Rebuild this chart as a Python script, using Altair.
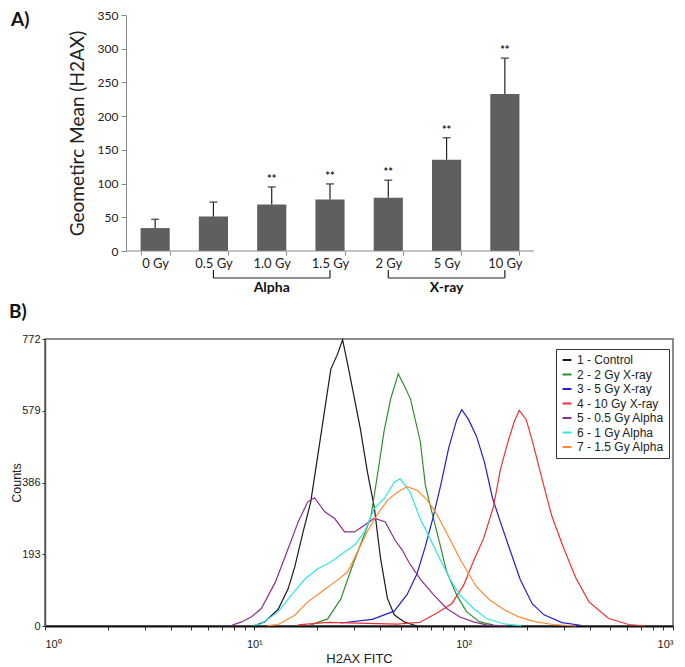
import altair as alt
import pandas as pd

# ---------------- Panel A data ----------------
doses = ["0 Gy", "0.5 Gy", "1.0 Gy", "1.5 Gy", "2 Gy", "5 Gy", "10 Gy"]
geo_mean = [34, 51, 69, 76.5, 79, 135.5, 233]
geo_err = [13, 21.5, 26, 23, 26, 32.5, 53]
signif = ["", "", "**", "**", "**", "**", "**"]

group_names = ["Alpha", "X-ray"]
group_start = ["0.5 Gy", "2 Gy"]
group_end = ["1.5 Gy", "10 Gy"]
group_mid = ["1.0 Gy", "5 Gy"]

# ---------------- Panel B data ----------------
series_names = ["1 - Control", "2 - 2 Gy X-ray", "3 - 5 Gy X-ray", "4 - 10 Gy X-ray",
                "5 - 0.5 Gy Alpha", "6 - 1 Gy Alpha", "7 - 1.5 Gy Alpha"]
series_colors = ["#1a1a1a", "#2f8f2f", "#2020d0", "#f03030", "#8e2e8e", "#30e6e6", "#ff8a33"]

control_x = [9.9, 11.2, 13.0, 14.5, 15.6, 17.1, 18.6, 20.8, 23.2, 25.0, 26.4, 27.9, 30.1, 32.1,
             34.7, 37.4, 40.0, 43.2, 46.6, 52.0, 59.8]
control_y = [0, 11, 45, 100, 159, 253, 334, 514, 691, 732, 770, 705, 611, 530, 414, 320, 185,
             75, 30, 11, 0]

xray2_x = [18.6, 22.4, 25.9, 29.5, 33.5, 36.1, 39.4, 41.6, 44.8, 48.7, 51.8, 55.7, 62.1, 65.6,
           71.8, 77.2, 83.0, 92.7, 103.3, 119.4, 138.3]
xray2_y = [3, 19, 73, 164, 245, 296, 433, 522, 611, 678, 648, 611, 495, 379, 288, 218, 145, 83,
           38, 11, 3]

xray5_x = [25.8, 36.6, 46.6, 53.7, 59.8, 65.3, 71.3, 77.8, 84.9, 92.7, 97.9, 105.6, 115.2, 125.8,
           137.2, 149.7, 165.2, 186.3, 212.4, 242.0, 294.6, 362.5]
xray5_y = [8, 18, 40, 85, 140, 210, 290, 380, 480, 555, 582, 555, 510, 440, 345, 280, 210, 125,
           60, 30, 9, 2]

xray10_x = [16.2, 22.4, 31.1, 48.2, 61.9, 74.5, 87.7, 100.0, 111.5, 124.4, 138.7, 149.7, 161.7,
            174.5, 184.2, 199.0, 214.7, 239.4, 264.0, 297.7, 343.0, 397.0, 493.0, 614.0, 736.0]
xray10_y = [3, 10, 8, 5, 10, 35, 60, 110, 175, 235, 320, 420, 490, 550, 580, 555, 490, 385, 295,
            215, 130, 65, 20, 4, 0]

alpha05_x = [7.8, 8.7, 9.7, 10.8, 12.6, 14.5, 16.2, 18.0, 19.4, 21.7, 24.2, 27.0, 30.1, 33.6,
             37.4, 42.2, 47.1, 50.8, 54.9, 61.9, 72.1, 83.0, 96.0, 111.5, 128.5, 159.9]
alpha05_y = [2, 11, 25, 47, 118, 208, 280, 334, 345, 307, 289, 253, 253, 271, 290, 280, 230,
             205, 170, 127, 83, 47, 24, 11, 3, 0]

alpha1_x = [9.9, 10.8, 13.0, 15.0, 17.5, 20.1, 23.2, 27.0, 30.1, 33.6, 37.4, 41.8, 46.6, 49.7,
            55.5, 61.9, 69.1, 76.9, 85.9, 96.0, 111.5, 128.5, 154.8, 188.4]
alpha1_y = [2, 6, 38, 83, 127, 154, 172, 199, 217, 253, 316, 343, 387, 396, 360, 289, 235, 181,
            127, 83, 47, 20, 6, 1]

alpha15_x = [11.6, 13.0, 15.6, 18.0, 20.8, 24.2, 27.9, 31.1, 34.7, 38.7, 43.2, 48.2, 53.7, 59.8,
             66.8, 74.5, 83.0, 96.0, 103.3, 115.2, 133.3, 154.8, 184.2, 221.8, 267.0, 343.0]
alpha15_y = [1, 4, 29, 65, 91, 118, 145, 200, 255, 300, 338, 360, 375, 365, 340, 300, 250, 180,
             150, 105, 70, 45, 24, 11, 4, 0]

series_x = [control_x, xray2_x, xray5_x, xray10_x, alpha05_x, alpha1_x, alpha15_x]
series_y = [control_y, xray2_y, xray5_y, xray10_y, alpha05_y, alpha1_y, alpha15_y]

y_ticks_A = [0, 50, 100, 150, 200, 250, 300, 350]
y_ticks_B = [0, 193, 386, 579, 772]
x_ticks_B = [m * d for d in [1, 10, 100] for m in range(1, 10)] + [1000]

# ---------------- Panel A ----------------
# Panel A's plot area is shifted right of panel B's by SHIFT px: the band scale
# keeps that room on its left and the y axis is moved in by the same amount.
SHIFT = 81
WA, HA = 408 + SHIFT, 236
FONT_A = "Lato"
dfA = pd.DataFrame({
    "dose": doses,
    "mean": geo_mean,
    "upper": [m + e for m, e in zip(geo_mean, geo_err)],
    "sig": signif,
})
n = len(doses)
step = (WA - SHIFT) / n
pad_outer = (SHIFT + 0.5 * step) / (2 * step)
band_align = (SHIFT + 0.25 * step) / (2 * pad_outer * step)
cat_scale = alt.Scale(domain=doses, paddingInner=0.5, paddingOuter=pad_outer, align=band_align)
y_scale_A = alt.Scale(domain=[0, 350], nice=False)
YT = "Geometirc Mean (H2AX)"

x_axis_A = alt.Axis(title=None, labelAngle=0, tickBand="extent", domain=False,
                    tickColor="#8a8a8a", tickSize=4, labelPadding=2, labelFont=FONT_A,
                    labelFontSize=13, labelColor="#222")
y_axis_A = alt.Axis(title=YT, values=y_ticks_A, grid=False, offset=-SHIFT, domainColor="#8a8a8a",
                    tickColor="#8a8a8a", tickSize=5, labelPadding=3, labelFont=FONT_A,
                    labelFontSize=12, labelColor="#222", labelOverlap=False, titleFont=FONT_A,
                    titleFontSize=19, titleFontWeight="normal", titleColor="#222",
                    titlePadding=10)


def xA(field):
    return alt.X(field, scale=cat_scale, sort=doses, axis=x_axis_A)


def yA(field):
    return alt.Y(field, scale=y_scale_A, axis=y_axis_A)


baseA = alt.Chart(dfA)
bars = baseA.mark_bar(color="#5f5f5f").encode(x=xA("dose:N"), y=yA("mean:Q"))
err = baseA.mark_rule(color="#222", strokeWidth=1.2).encode(
    x=xA("dose:N"), y=yA("mean:Q"), y2="upper:Q")
cap = baseA.mark_tick(color="#222", size=8, thickness=1.5).encode(x=xA("dose:N"), y=yA("upper:Q"))
stars = baseA.mark_text(dy=-7, fontSize=11, fontWeight="bold", font=FONT_A, color="#222").encode(
    x=xA("dose:N"), y=yA("upper:Q"), text="sig:N")

# x-axis baseline (only under the shifted plot area)
x_base = alt.Chart(pd.DataFrame({"k": [0]})).mark_rule(color="#8a8a8a", strokeWidth=1).encode(
    x=alt.value(SHIFT), x2=alt.value(WA), y=alt.value(HA))

dfG = pd.DataFrame({"start": group_start, "end": group_end, "mid": group_mid, "label": group_names})
baseG = alt.Chart(dfG)
br_h = baseG.mark_rule(color="#222", strokeWidth=1.2).encode(
    x=xA("start:N"), x2="end:N", y=alt.value(HA + 27))
br_l = baseG.mark_rule(color="#222", strokeWidth=1.2).encode(
    x=xA("start:N"), y=alt.value(HA + 19), y2=alt.value(HA + 27))
br_r = baseG.mark_rule(color="#222", strokeWidth=1.2).encode(
    x=xA("end:N"), y=alt.value(HA + 19), y2=alt.value(HA + 27))
br_t = baseG.mark_text(fontSize=14, fontWeight="bold", font=FONT_A, color="#111").encode(
    x=xA("mid:N"), y=alt.value(HA + 37), text="label:N")

tagA = alt.Chart(pd.DataFrame({"t": ["A)"]})).mark_text(
    align="left", baseline="top", fontSize=19, fontWeight="bold", font=FONT_A, color="#111"
).encode(x=alt.value(-34), y=alt.value(-4), text="t:N")

panelA = alt.layer(bars, err, cap, stars, x_base, br_h, br_l, br_r, br_t, tagA).properties(
    width=WA, height=HA)

# ---------------- Panel B ----------------
WB, HB = 628, 287
FONT_B = "Liberation Sans"
rows = []
for name, xs, ys in zip(series_names, series_x, series_y):
    for xv, yv in zip(xs, ys):
        rows.append({"series": name, "fitc": xv, "count": yv})
dfB = pd.DataFrame(rows)

label_expr = ("datum.value == 1 ? '10⁰' : datum.value == 10 ? '10¹' : "
              "datum.value == 100 ? '10²' : datum.value == 1000 ? '10³' : ''")

lines = alt.Chart(dfB).mark_line(strokeWidth=1.2).encode(
    x=alt.X("fitc:Q", scale=alt.Scale(type="log", domain=[1, 1000], nice=False),
            axis=alt.Axis(title="H2AX FITC", values=x_ticks_B, labelExpr=label_expr, grid=False,
                          domainColor="#111", domainWidth=2, tickColor="#333", tickSize=4,
                          labelPadding=8, labelFont=FONT_B, labelFontSize=11,
                          labelColor="#222", labelFlush=True, labelOverlap=False,
                          titleFont=FONT_B, titleFontSize=13, titleFontWeight="normal",
                          titleColor="#222", titlePadding=3)),
    y=alt.Y("count:Q", scale=alt.Scale(domain=[0, 772], nice=False),
            axis=alt.Axis(title="Counts", values=y_ticks_B, grid=False, domainColor="#555",
                          domainWidth=1.5, tickColor="#333", tickSize=3, labelPadding=2,
                          labelFont=FONT_B, labelFontSize=11, labelColor="#222",
                          labelOverlap=False, titleFont=FONT_B, titleFontSize=12.5,
                          titleFontWeight="normal", titleColor="#222", titleX=-22,
                          titleBaseline="bottom")),
    color=alt.Color("series:N", sort=series_names,
                    scale=alt.Scale(domain=series_names, range=series_colors),
                    legend=alt.Legend(orient="none", legendX=511, legendY=10, title=None,
                                      symbolType="stroke", symbolSize=80,
                                      symbolStrokeWidth=2, strokeColor="#333",
                                      fillColor="white", padding=5, rowPadding=2.5,
                                      labelFont=FONT_B, labelFontSize=12,
                                      labelColor="#222", labelOffset=4)),
    order=alt.Order("fitc:Q"),
)

tagB = alt.Chart(pd.DataFrame({"t": ["B)"]})).mark_text(
    align="left", baseline="top", fontSize=19, fontWeight="bold", font=FONT_A, color="#111"
).encode(x=alt.value(-36), y=alt.value(-36), text="t:N")

panelB = alt.layer(lines, tagB).properties(
    width=WB, height=HB,
    view=alt.ViewBackground(stroke="#666", strokeWidth=1.5))

chart = alt.vconcat(panelA, panelB, spacing=6).resolve_scale(
    color="independent").resolve_legend(color="independent").properties(
    padding=0).configure_view(stroke="transparent")

chart.save("out.html", embed_options={"renderer": "svg", "actions": False})
